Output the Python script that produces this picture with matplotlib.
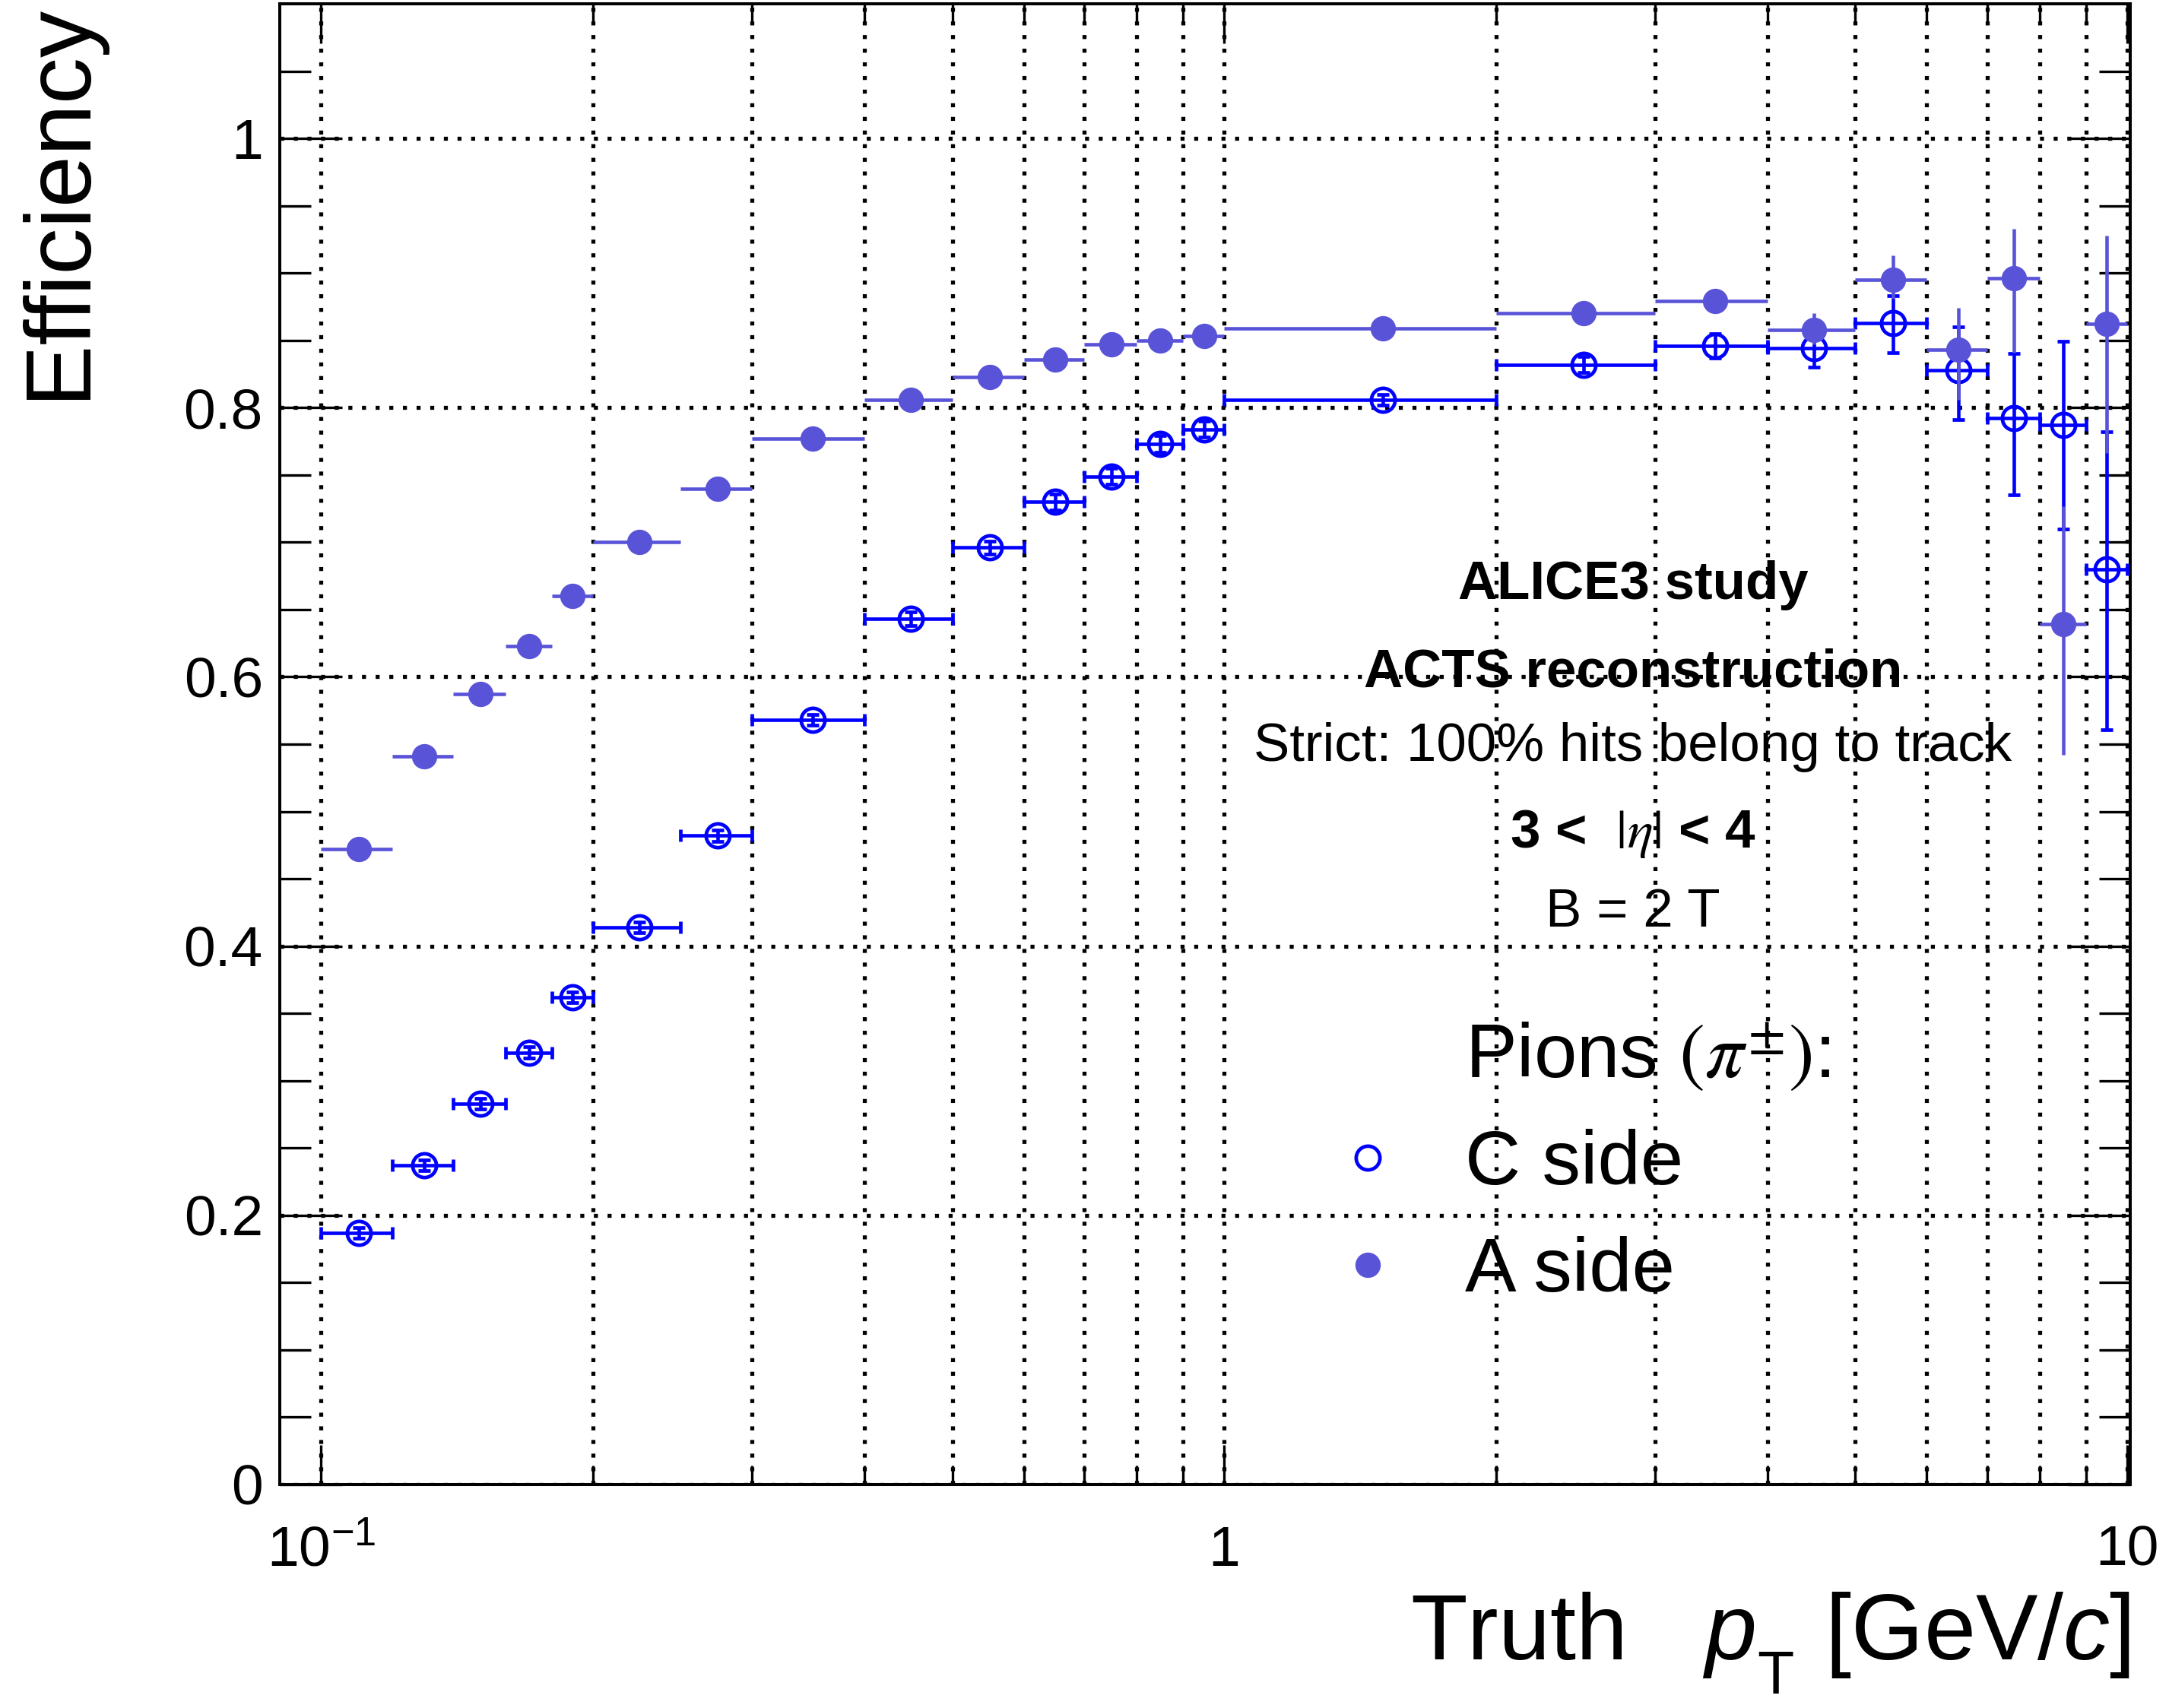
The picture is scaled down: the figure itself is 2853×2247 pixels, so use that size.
import numpy as np
import matplotlib
matplotlib.use("Agg")
import matplotlib.pyplot as plt
from matplotlib.lines import Line2D
from matplotlib.ticker import FixedLocator, NullFormatter

plt.rcParams['font.family'] = ['Liberation Sans', 'DejaVu Sans']
plt.rcParams['mathtext.fontset'] = 'custom'
plt.rcParams['mathtext.rm'] = 'Liberation Sans'
plt.rcParams['mathtext.it'] = 'Liberation Sans:italic'
plt.rcParams['mathtext.bf'] = 'Liberation Sans:bold'

# pT binning [GeV/c]
bin_edges = [0.1, 0.12, 0.14, 0.16, 0.18, 0.2, 0.25, 0.3, 0.4, 0.5, 0.6, 0.7,
             0.8, 0.9, 1.0, 2.0, 3.0, 4.0, 5.0, 6.0, 7.0, 8.0, 9.0, 10.0]

# C side efficiency and asymmetric uncertainties
eff_c = [0.187, 0.237, 0.283, 0.321, 0.362, 0.414, 0.482, 0.568, 0.643, 0.696,
         0.730, 0.749, 0.773, 0.784, 0.806, 0.832, 0.846, 0.844, 0.863, 0.828,
         0.792, 0.787, 0.680]
err_c_lo = [0.004, 0.004, 0.004, 0.004, 0.004, 0.004, 0.004, 0.004, 0.005, 0.005,
            0.006, 0.006, 0.006, 0.006, 0.004, 0.006, 0.009, 0.014, 0.022, 0.037,
            0.057, 0.077, 0.119]
err_c_hi = [0.004, 0.004, 0.004, 0.004, 0.004, 0.004, 0.004, 0.004, 0.005, 0.005,
            0.006, 0.006, 0.006, 0.006, 0.004, 0.006, 0.009, 0.014, 0.020, 0.032,
            0.048, 0.062, 0.102]

# A side efficiency and asymmetric uncertainties
eff_a = [0.472, 0.541, 0.587, 0.623, 0.660, 0.700, 0.740, 0.777, 0.806, 0.823,
         0.836, 0.847, 0.850, 0.853, 0.859, 0.870, 0.879, 0.858, 0.895, 0.843,
         0.896, 0.639, 0.862]
err_a_lo = [0.004, 0.004, 0.004, 0.004, 0.004, 0.004, 0.004, 0.004, 0.004, 0.004,
            0.004, 0.004, 0.004, 0.004, 0.003, 0.005, 0.007, 0.011, 0.014, 0.037,
            0.055, 0.097, 0.096]
err_a_hi = [0.004, 0.004, 0.004, 0.004, 0.004, 0.004, 0.004, 0.004, 0.004, 0.004,
            0.004, 0.004, 0.004, 0.004, 0.003, 0.005, 0.007, 0.012, 0.018, 0.031,
            0.037, 0.088, 0.066]

x_major = [0.1, 1, 10]
x_major_labels = [r'$10^{-1}$', '1', '10']
x_minor = [0.2, 0.3, 0.4, 0.5, 0.6, 0.7, 0.8, 0.9, 2, 3, 4, 5, 6, 7, 8, 9]
y_major = [0, 0.2, 0.4, 0.6, 0.8, 1.0]
y_major_labels = ['0', '0.2', '0.4', '0.6', '0.8', '1']

col_c = '#0000ff'
col_a = '#5953d8'

edges = np.array(bin_edges)
lo, hi = edges[:-1], edges[1:]
xc = 0.5 * (lo + hi)
xerr = [xc - lo, hi - xc]

W, H = 2853, 2247
fig = plt.figure(figsize=(W / 100, H / 100), dpi=100)
ax = fig.add_axes([368 / W, 1 - 1953 / H, (2802 - 368) / W, (1953 - 5) / H])

bar_style = dict(elinewidth=3.3, capsize=6, capthick=3.3)
ax.errorbar(xc, eff_c, xerr=xerr, yerr=[err_c_lo, err_c_hi], fmt='o', ms=22.5,
            mfc='none', mec=col_c, mew=3.4, ecolor=col_c, zorder=3, **bar_style)
ax.errorbar(xc, eff_a, xerr=xerr, yerr=[err_a_lo, err_a_hi], fmt='o', ms=24,
            mfc=col_a, mec=col_a, mew=0, ecolor=col_a, zorder=4, **bar_style)

ax.set_xscale('log')
ax.set_xlim(0.09, 10.08)
ax.set_ylim(0, 1.1)
ax.xaxis.set_major_locator(FixedLocator(x_major))
ax.xaxis.set_minor_locator(FixedLocator(x_minor))
ax.xaxis.set_minor_formatter(NullFormatter())
ax.set_xticks(x_major, labels=x_major_labels)
ax.set_yticks(y_major, labels=y_major_labels)
ax.yaxis.set_minor_locator(FixedLocator(np.arange(0.05, 1.09, 0.05)))

ax.tick_params(which='both', direction='in', top=True, right=True, width=2.4,
               labelsize=54)
ax.tick_params(axis='x', which='major', length=37.5, pad=77)
ax.tick_params(axis='x', which='minor', length=18)
ax.tick_params(axis='y', which='major', length=59, pad=16)
ax.tick_params(axis='y', which='minor', length=29.5)
for t in ax.xaxis.get_major_ticks():
    t.label1.set_verticalalignment('baseline')

for s in ax.spines.values():
    s.set_linewidth(2.9)

dots = (0, (1.0, 2.4))
ax.set_axisbelow(True)
ax.grid(True, which='major', axis='y', color='k', ls=dots, lw=3.8)
ax.grid(True, which='both', axis='x', color='k', ls=dots, lw=3.8)

# axis titles, ROOT-style placement (large, low subscript T)
fig.text(110 / W, 1 - 4 / H, 'Efficiency', rotation=90, rotation_mode='anchor',
         ha='right', va='baseline', fontsize=88)
fig.text(2802 / W, 1 - 2183 / H, r' [GeV/$c$]', ha='right', va='baseline',
         fontsize=88)
fig.text(2311 / W, 1 - 2228 / H, 'T', ha='left', va='baseline', fontsize=57)
fig.text(2308 / W, 1 - 2183 / H, r'Truth   $p$', ha='right', va='baseline',
         fontsize=88)

# annotation block
tr = ax.get_yaxis_transform()
xt = 0.7313
ax.text(xt, 0.658, 'ALICE3 study', transform=tr, ha='center', va='baseline',
        fontsize=51, fontweight='bold')
ax.text(xt, 0.5926, 'ACTS reconstruction', transform=tr, ha='center',
        va='baseline', fontsize=51, fontweight='bold')
ax.text(xt, 0.5377, 'Strict: 100% hits belong to track', transform=tr,
        ha='center', va='baseline', fontsize=51)
ax.text(xt, 0.4732, r'3 <  $|\eta|$ < 4', transform=tr, ha='center',
        va='baseline', fontsize=51, fontweight='bold', math_fontfamily='stix')
ax.text(xt, 0.4145, 'B = 2 T', transform=tr, ha='center', va='baseline',
        fontsize=51)

# legend
h_head = Line2D([], [], ls='none')
h_c = Line2D([], [], ls='none', marker='o', ms=22.5, mfc='none', mec=col_c, mew=3.4)
h_a = Line2D([], [], ls='none', marker='o', ms=24, mfc=col_a, mec=col_a, mew=0)
leg = ax.legend([h_head, h_c, h_a], [r'Pions $(\pi^{\pm})$:', 'C side', 'A side'],
                loc='upper left', bbox_to_anchor=(1748 / W, 1 - 1344 / H),
                bbox_transform=fig.transFigure, frameon=False, fontsize=73,
                handlelength=1.0, handletextpad=0.77, labelspacing=0.465,
                borderpad=0, borderaxespad=0, numpoints=1)
leg.get_texts()[0].set_math_fontfamily('stix')

fig.savefig('out.png', dpi=100)
